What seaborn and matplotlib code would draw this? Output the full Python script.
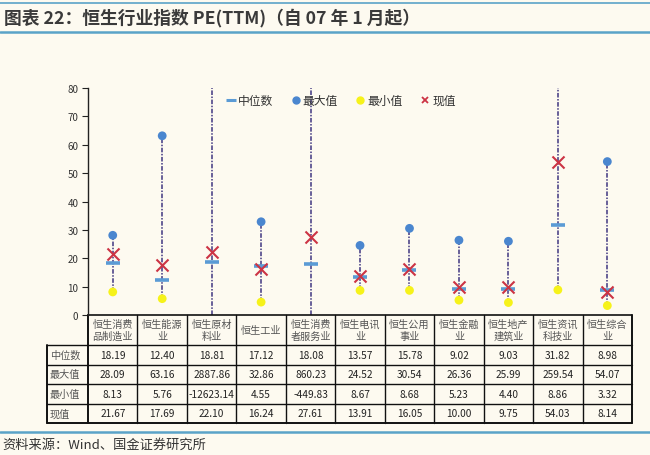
import numpy as np
import pandas as pd
import matplotlib
matplotlib.use("Agg")
import matplotlib.pyplot as plt
from matplotlib.lines import Line2D
import seaborn as sns

# ---------------- data ----------------
categories = ["恒生消费\n品制造业", "恒生能源\n业", "恒生原材\n料业", "恒生工业", "恒生消费\n者服务业",
              "恒生电讯\n业", "恒生公用\n事业", "恒生金融\n业", "恒生地产\n建筑业", "恒生资讯\n科技业", "恒生综合\n业"]
median_vals = [18.19, 12.40, 18.81, 17.12, 18.08, 13.57, 15.78, 9.02, 9.03, 31.82, 8.98]
max_vals = [28.09, 63.16, 2887.86, 32.86, 860.23, 24.52, 30.54, 26.36, 25.99, 259.54, 54.07]
min_vals = [8.13, 5.76, -12623.14, 4.55, -449.83, 8.67, 8.68, 5.23, 4.40, 8.86, 3.32]
current_vals = [21.67, 17.69, 22.10, 16.24, 27.61, 13.91, 16.05, 10.00, 9.75, 54.03, 8.14]
row_labels = ["中位数", "最大值", "最小值", "现值"]
yticks = [0, 10, 20, 30, 40, 50, 60, 70, 80]

title = "图表 22：恒生行业指数 PE(TTM)（自 07 年 1 月起）"
source = "资料来源：Wind、国金证券研究所"

# ---------------- style ----------------
BG = "#fdfaf0"
sns.set_theme(style="white")
plt.rcParams["font.family"] = ["Noto Sans CJK SC", "DejaVu Sans"]
plt.rcParams["axes.unicode_minus"] = False

fig = plt.figure(figsize=(6.5, 4.56), dpi=100, facecolor=BG)
ax = fig.add_axes([0.1354, 0.307, 0.837, 0.4978])
ax.set_facecolor(BG)

df = pd.DataFrame({
    "x": np.arange(len(categories)),
    "median": median_vals, "max": max_vals, "min": min_vals, "current": current_vals,
})

# vertical range lines
ax.vlines(df["x"], np.clip(df["min"], 0, 80), np.clip(df["max"], 0, 80),
          colors="#3f3680", linestyles=(0, (3, 1, 1, 1)), linewidth=1.1, zorder=1)

sns.scatterplot(data=df, x="x", y="max", ax=ax, color="#4a86cf", s=40, marker="o",
                edgecolor="none", zorder=3, legend=False)
sns.scatterplot(data=df, x="x", y="min", ax=ax, color="#f6f21a", s=40, marker="o",
                edgecolor="none", zorder=3, legend=False)
sns.scatterplot(data=df, x="x", y="median", ax=ax, color="#5b9bd5", s=110, marker="_",
                linewidth=2.6, zorder=4, legend=False)
sns.scatterplot(data=df, x="x", y="current", ax=ax, color="#cc3344", s=75, marker="x",
                linewidth=1.5, zorder=5, legend=False)

ax.set_xlim(-0.5, len(categories) - 0.5)
ax.set_ylim(0, 80)
ax.set_yticks(yticks)
ax.set_yticklabels([str(t) for t in yticks], fontsize=7, color="#333333")
ax.set_xticks([])
ax.set_xlabel("")
ax.set_ylabel("")
for s in ["top", "right", "bottom"]:
    ax.spines[s].set_visible(False)
ax.spines["left"].set_color("#222222")
ax.spines["left"].set_linewidth(1.0)
ax.tick_params(axis="y", direction="out", length=4, width=0.8, color="#222222", left=True, pad=3)

# legend
handles = [
    Line2D([], [], color="#5b9bd5", marker="_", linestyle="none", markersize=7, markeredgewidth=2.2),
    Line2D([], [], color="#4a86cf", marker="o", linestyle="none", markersize=5),
    Line2D([], [], color="#f6f21a", marker="o", linestyle="none", markersize=5),
    Line2D([], [], color="#cc3344", marker="x", linestyle="none", markersize=5, markeredgewidth=1.3),
]
leg = ax.legend(handles, row_labels, loc="upper center", bbox_to_anchor=(0.465, 1.02), ncol=4,
                frameon=False, fontsize=8.5, handlelength=0.8, handletextpad=0.2, columnspacing=1.5)
for t in leg.get_texts():
    t.set_color("#333333")

# ---------------- table under the axis ----------------
tr = ax.get_xaxis_transform()
ax_h_px = 227.0
def ay(px):
    return -(px - 316.0) / ax_h_px

header_bottom = ay(346)
row_edges = [ay(346), ay(365.5), ay(385), ay(404.5), ay(424)]
left_lab = -1.33
xr = len(categories) - 0.5
xl = -0.5
lc = "#111111"

def hline(y, x0, x1, lw=1.0):
    ax.add_line(Line2D([x0, x1], [y, y], transform=tr, color=lc, lw=lw, clip_on=False))

def vline(x, y0, y1, lw=1.0):
    ax.add_line(Line2D([x, x], [y0, y1], transform=tr, color=lc, lw=lw, clip_on=False))

hline(0, xl, xr, 1.2)
hline(header_bottom, left_lab, xr, 1.0)
for y in row_edges[1:-1]:
    hline(y, left_lab, xr, 1.0)
hline(row_edges[-1], left_lab, xr, 1.4)
vline(left_lab, header_bottom, row_edges[-1], 1.4)
for i in range(len(categories) + 1):
    vline(xl + i, 0, row_edges[-1], 1.4 if i in (0, len(categories)) else 1.0)

for i, c in enumerate(categories):
    ax.text(i, (0 + header_bottom) / 2, c, transform=tr, ha="center", va="center",
            fontsize=7.3, color="#555555", linespacing=1.25, clip_on=False)

rows = [median_vals, max_vals, min_vals, current_vals]
for r, (lab, vals) in enumerate(zip(row_labels, rows)):
    yc = (row_edges[r] + row_edges[r + 1]) / 2
    ax.text(left_lab + 0.06, yc, lab, transform=tr, ha="left", va="center",
            fontsize=7.3, color="#555555", clip_on=False)
    for i, v in enumerate(vals):
        ax.text(i, yc, f"{v:.2f}", transform=tr, ha="center", va="center",
                fontsize=7.3, color="#222222", clip_on=False)

# ---------------- title, rules, source ----------------
rule_color = "#5aa3c8"
fig.add_artist(Line2D([0, 1], [1 - 4 / 456, 1 - 4 / 456], transform=fig.transFigure,
                      color=rule_color, lw=1.2))
fig.add_artist(Line2D([0, 1], [1 - 33 / 456, 1 - 33 / 456], transform=fig.transFigure,
                      color=rule_color, lw=1.8))
fig.add_artist(Line2D([0, 1], [1 - 433 / 456, 1 - 433 / 456], transform=fig.transFigure,
                      color=rule_color, lw=1.8))
fig.text(0.006, 1 - 18.5 / 456, title, ha="left", va="center", fontsize=12.8,
         fontweight="bold", style="italic", color="#3a3a3a")
fig.text(0.004, 1 - 445 / 456, source, ha="left", va="center", fontsize=9.5, color="#333333")

fig.savefig("out.png", dpi=100, facecolor=BG)
